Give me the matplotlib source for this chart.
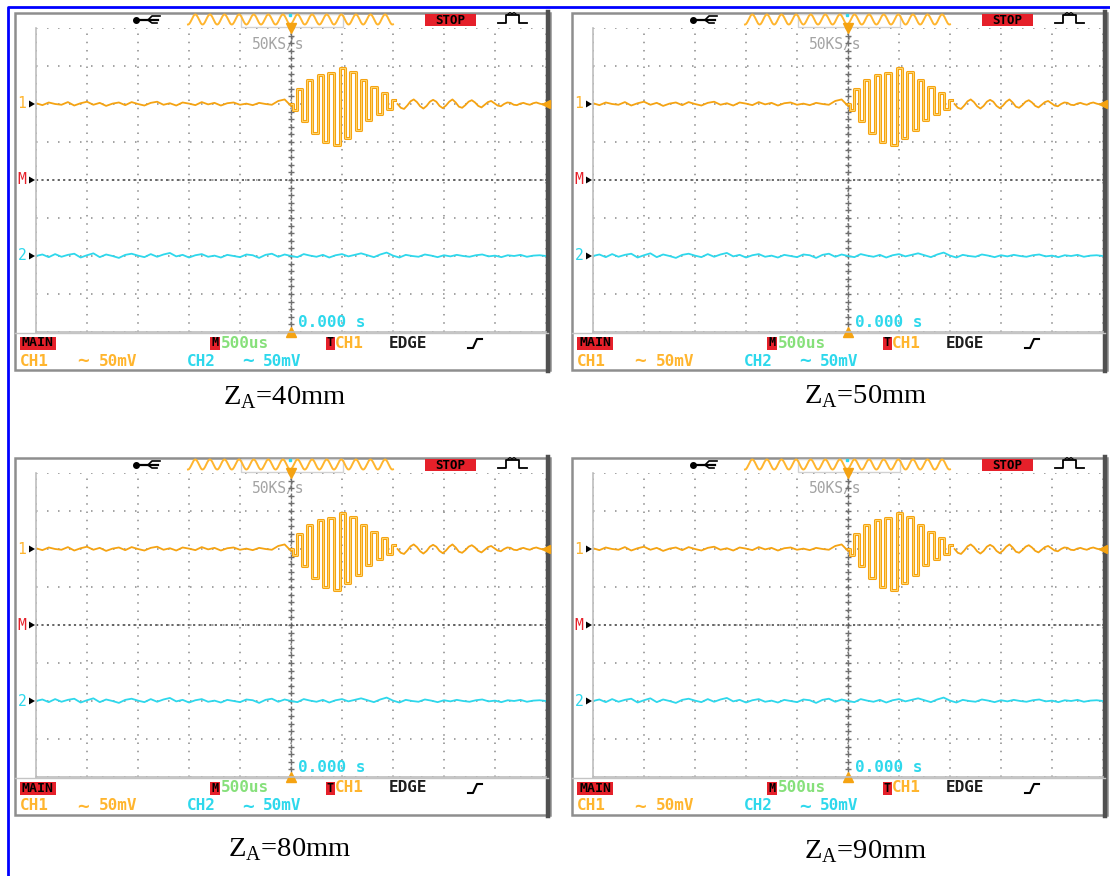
import numpy as np
import matplotlib
matplotlib.use("Agg")
from matplotlib import pyplot as plt
from matplotlib.patches import Rectangle, Polygon

plt.rcParams["mathtext.fontset"] = "custom"
plt.rcParams["mathtext.rm"] = "Liberation Serif"

W, H = 1110, 876
GW, GH = 510, 304          # grid size in pixels (10 x 8 divisions)

ORANGE = "#f5a312"
ORANGE_TXT = "#ffb52e"
CYAN = "#2ed8ec"
RED = "#e5202a"
GREEN = "#86e07a"
MONO = "DejaVu Sans Mono"

# one screen per distance
captions = ["40mm", "50mm", "80mm", "90mm"]
grid_origin = [(36, 28), (593, 28), (36, 473), (593, 473)]
caption_pos = [(285, 398), (866, 397), (290, 850), (866, 852)]

# channel levels (divisions from centre)
ch1_level = 2
ch2_level = -2

# CH1 before the trigger, -5..0 div
ch1_pre = [0.02, -0.03, 0.04, 0.00, -0.02, 0.05, -0.04, 0.02, 0.06, -0.02,
           0.03, -0.05, 0.01, 0.04, -0.03, 0.05, 0.00, -0.04, 0.03, 0.06,
           -0.02, 0.02, -0.04, 0.04, 0.01, -0.03, 0.05, -0.01, 0.03, -0.04,
           0.02, 0.04, -0.02, 0.01, -0.03, 0.03, 0.00, -0.02, 0.08, 0.12, -0.05]

# CH1 burst peaks (time in div, amplitude in div)
burst_t = [0.0, 0.08, 0.16, 0.26, 0.36, 0.46, 0.58, 0.69, 0.78, 0.90, 1.01,
           1.11, 1.21, 1.32, 1.42, 1.52, 1.63, 1.73, 1.83, 1.95, 2.03]
burst_v = [0.0, -0.15, 0.39, -0.46, 0.63, -0.77, 0.76, -0.99, 0.81, -1.08, 0.94,
           -0.90, 0.85, -0.68, 0.63, -0.42, 0.44, -0.25, 0.28, -0.14, 0.11]

# CH1 ringing after the burst, 2.09..5 div
ch1_ring = [0.00, -0.10, -0.13, -0.04, 0.07, 0.12, 0.05, -0.06, -0.12, -0.05,
            0.06, 0.11, 0.06, -0.05, -0.11, -0.04, 0.06, 0.12, 0.04, -0.07,
            -0.10, -0.03, 0.06, 0.10, 0.04, -0.05, -0.09, -0.02, 0.05, 0.08,
            0.02, -0.04, -0.06, 0.00, 0.04, 0.03, -0.02, -0.03, 0.01, 0.03,
            0.00, -0.02, 0.02, 0.04, 0.01, -0.01, 0.02]

# CH2 noise over the whole screen
ch2 = [0.00, 0.04, -0.03, 0.05, -0.02, 0.03, 0.06, -0.04, 0.02, 0.07,
       -0.03, 0.04, 0.00, -0.05, 0.03, 0.06, 0.01, -0.03, 0.05, -0.02,
       0.04, 0.08, -0.01, 0.03, -0.04, 0.02, 0.05, -0.02, 0.01, -0.04,
       0.03, 0.00, -0.03, 0.04, 0.02, -0.05, 0.03, 0.06, -0.02, 0.04,
       0.00, -0.03, 0.05, 0.01, -0.02, 0.03, -0.04, 0.02, 0.05, -0.01,
       0.03, 0.07, 0.02, -0.03, 0.04, 0.09, 0.01, -0.04, 0.03, 0.00,
       -0.02, 0.04, 0.01, -0.03, 0.02, -0.01, 0.03, 0.00, -0.02, 0.02,
       0.04, -0.01, 0.01, -0.03, 0.02, 0.00, 0.03, -0.02, 0.01, 0.02, 0.00]


def level_px(gy, level):
    return gy + (4 - level) * GH / 8


def stext(bg, x, y, s, color, size=11.5, **kw):
    bg.text(x, y, s, color=color, family=MONO, weight="bold", fontsize=size,
            va="center", **kw)


def draw_screen(fig, bg, gx, gy, caption, cpos):
    ox, oy = gx - 21, gy - 15
    # outer frame
    bg.add_patch(Rectangle((ox, oy), 535, 357, fill=False, ec="#8e8e8e", lw=1.8))
    bg.plot([ox + 533, ox + 533], [oy - 1, oy + 358], color="#505050", lw=3.2)
    bg.plot([ox, ox + 533], [gy + GH + 1, gy + GH + 1], color="#c4c4c4", lw=1)

    # top status bar
    bg.plot([gx + 100, gx + 122], [gy - 8, gy - 8], color="black", lw=1.6)
    bg.plot([gx + 100], [gy - 8], "o", color="black", ms=4)
    bg.plot([gx + 112, gx + 116, gx + 124], [gy - 8, gy - 12, gy - 12], color="black", lw=1.2)
    bg.plot([gx + 112, gx + 116, gx + 121], [gy - 8, gy - 5, gy - 5], color="black", lw=1.2)
    bg.add_patch(Rectangle((gx + 205, gy - 14), 102, 13, fill=False, ec="#d2d2d2", lw=1))
    zx = np.linspace(gx + 152, gx + 357, 400)
    zy = gy - 8.5 + 5 * np.cos((zx - gx - 152) / 14.6 * 2 * np.pi)
    bg.plot(zx, zy, color=ORANGE_TXT, lw=1.4)
    bg.plot([gx + 254], [gy - 13], "s", color=CYAN, ms=1.5)
    bg.add_patch(Rectangle((gx + 389, gy - 14), 51, 12, color=RED, lw=0))
    bg.text(gx + 414.5, gy - 7.5, "STOP", color="black", family=MONO, weight="bold",
            fontsize=9, ha="center", va="center")
    bg.plot([gx + 462, gx + 470, gx + 470, gx + 483, gx + 483, gx + 491],
            [gy - 5, gy - 5, gy - 13, gy - 13, gy - 5, gy - 5], color="black", lw=1.3)
    bg.plot([gx + 472, gx + 474, gx + 476, gx + 478, gx + 480],
            [gy - 14, gy - 15.5, gy - 14, gy - 15.5, gy - 14], color="black", lw=0.8)

    # level markers on the left
    for txt, lev, col in [("1", ch1_level, ORANGE_TXT), ("M", 0, RED), ("2", ch2_level, CYAN)]:
        py = level_px(gy, lev)
        bg.text(gx - 14, py, txt, color=col, family=MONO, fontsize=10.5, ha="center", va="center")
        bg.add_patch(Polygon([[gx - 7, py - 3.5], [gx - 7, py + 3.5], [gx - 1, py]],
                             color="black", lw=0))

    # bottom status rows
    r1 = gy + 315
    r2 = gy + 332
    bg.add_patch(Rectangle((gx - 16, r1 - 6.5), 36, 13, color=RED, lw=0))
    bg.text(gx + 2, r1, "MAIN", color="black", family=MONO, weight="bold",
            fontsize=9.5, ha="center", va="center")
    bg.add_patch(Rectangle((gx + 174, r1 - 6.5), 10, 13, color=RED, lw=0))
    bg.text(gx + 179, r1, "M", color="black", family=MONO, weight="bold",
            fontsize=8.5, ha="center", va="center")
    stext(bg, gx + 185, r1, "500us", GREEN)
    bg.add_patch(Rectangle((gx + 290, r1 - 6.5), 9, 13, color=RED, lw=0))
    bg.text(gx + 294.5, r1, "T", color="black", family=MONO, weight="bold",
            fontsize=8.5, ha="center", va="center")
    stext(bg, gx + 299, r1, "CH1", ORANGE_TXT)
    stext(bg, gx + 353, r1, "EDGE", "#1e1e1e")
    bg.plot([gx + 432, gx + 437, gx + 441, gx + 446], [r1 + 5, r1 + 5, r1 - 4, r1 - 4],
            color="black", lw=1.5)
    stext(bg, gx - 16, r2 + 1, "CH1", ORANGE_TXT)
    stext(bg, gx + 47, r2 + 1, "\u223c", ORANGE_TXT, size=14, ha="center")
    stext(bg, gx + 63, r2 + 1, "50mV", ORANGE_TXT)
    stext(bg, gx + 151, r2 + 1, "CH2", CYAN)
    stext(bg, gx + 212, r2 + 1, "\u223c", CYAN, size=14, ha="center")
    stext(bg, gx + 227, r2 + 1, "50mV", CYAN)
    bg.text(gx + 216, gy + 16, "50KS/s", color="#a3a3a3", family=MONO,
            fontsize=10.5, va="center")

    # caption
    bg.text(cpos[0], cpos[1], r"Z$_{\mathregular{A}}$=" + caption, family="Liberation Serif",
            fontsize=20.5, ha="center", va="center", color="black")

    # the scope grid itself, in divisions
    ax = fig.add_axes([gx / W, 1 - (gy + GH) / H, GW / W, GH / H])
    ax.set_facecolor("none")
    ax.set_xlim(-5, 5)
    ax.set_ylim(-4, 4)
    ax.set_xticks(range(-5, 6))
    ax.set_yticks(range(-4, 5))
    ax.tick_params(length=0, labelleft=False, labelbottom=False)
    ax.xaxis.grid(True, color="#8a8a8a", lw=1.1, ls=(0, (1, 4.4)))
    ax.yaxis.grid(True, color="#8a8a8a", lw=1.1, ls=(0, (1, 6.2)))
    for side in ["top", "right"]:
        ax.spines[side].set_visible(False)
    for side in ["left", "bottom"]:
        ax.spines[side].set_color("#bdbdbd")
        ax.spines[side].set_linewidth(1.2)
    cy = np.arange(-4, 4.01, 0.2)
    ax.plot(np.zeros_like(cy), cy, "+", color="#6f6f6f", ms=4, mew=1)
    ax.axhline(0, color="#5a5a5a", lw=1.3, ls=(0, (1.2, 1.8)))

    # CH2
    t2 = np.linspace(-5, 5, len(ch2))
    ax.plot(t2, np.array(ch2) + ch2_level, color=CYAN, lw=1.3)

    # CH1
    t_pre = np.linspace(-5, 0, len(ch1_pre))
    t_ring = np.linspace(2.09, 5, len(ch1_ring))
    ax.plot(t_pre, np.array(ch1_pre) + ch1_level, color=ORANGE, lw=1.3)
    ax.plot(burst_t, np.array(burst_v) + ch1_level, color=ORANGE, lw=2.2,
            drawstyle="steps-mid")
    ax.plot(burst_t, np.array(burst_v) + ch1_level, color="#ffd66e", lw=0.7,
            drawstyle="steps-mid")
    ax.plot(t_ring, np.array(ch1_ring) + ch1_level, color=ORANGE, lw=1.3)
    ax.plot([5], [ch1_level], "<", color=ORANGE, ms=6, clip_on=False)
    ax.plot([0], [4], "v", color=ORANGE, ms=7, clip_on=False)
    ax.plot([0], [-4], "^", color=ORANGE, ms=7, clip_on=False)
    ax.text(0.13, -3.75, "0.000 s", color=CYAN, family=MONO, weight="bold",
            fontsize=11.5, va="center")
    return ax


fig = plt.figure(figsize=(W / 100, H / 100), dpi=100)
bg = fig.add_axes([0, 0, 1, 1])
bg.set_xlim(0, W)
bg.set_ylim(H, 0)
bg.axis("off")

# blue page border
bg.plot([8, 8, W], [H, 7, 7], color="#0000ff", lw=2)

for (gx, gy), cap, cpos in zip(grid_origin, captions, caption_pos):
    draw_screen(fig, bg, gx, gy, cap, cpos)

fig.savefig("out.png", dpi=100)
